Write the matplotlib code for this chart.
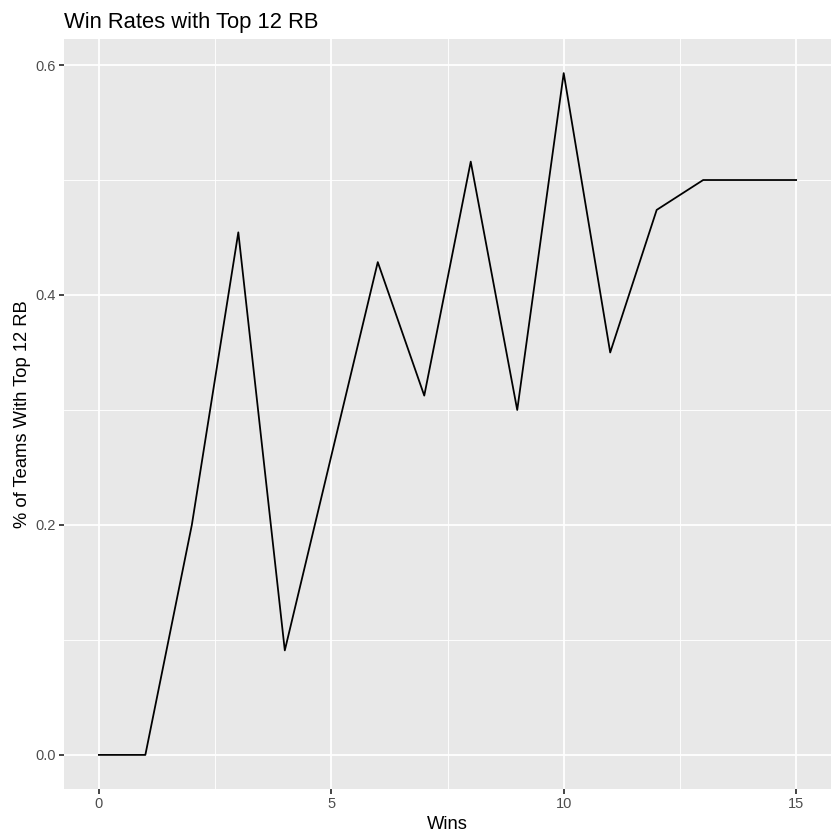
import matplotlib
matplotlib.use("Agg")
import matplotlib.pyplot as plt

plt.rcParams["font.family"] = ["Liberation Sans", "DejaVu Sans"]

wins = [0, 1, 2, 3, 4, 5, 6, 7, 8, 9, 10, 11, 12, 13, 14, 15]
pct_top12_rb = [0.0, 0.0, 0.2, 0.4545, 0.0909, 0.26, 0.4286, 0.3125,
                0.516, 0.30, 0.593, 0.35, 0.474, 0.5, 0.5, 0.5]

x_ticks = [0, 5, 10, 15]
y_ticks = [0.0, 0.2, 0.4, 0.6]
x_minor = [2.5, 7.5, 12.5]
y_minor = [0.1, 0.3, 0.5]

fig = plt.figure(figsize=(7, 7), dpi=120)
ax = fig.add_axes([64 / 840, 1 - 789 / 840, (831 - 64) / 840, (789 - 39) / 840])
ax.set_facecolor("#E8E8E8")
for s in ax.spines.values():
    s.set_visible(False)

for v in x_minor:
    ax.axvline(v, color="white", lw=0.53, zorder=0)
for v in y_minor:
    ax.axhline(v, color="white", lw=0.53, zorder=0)
for v in x_ticks:
    ax.axvline(v, color="white", lw=1.07, zorder=0)
for v in y_ticks:
    ax.axhline(v, color="white", lw=1.07, zorder=0)

ax.plot(wins, pct_top12_rb, color="black", lw=1.07, zorder=2)

xr = max(wins) - min(wins)
ax.set_xlim(min(wins) - 0.05 * xr, max(wins) + 0.05 * xr)
yr = max(pct_top12_rb) - min(pct_top12_rb)
ax.set_ylim(min(pct_top12_rb) - 0.05 * yr, max(pct_top12_rb) + 0.05 * yr)

ax.set_xticks(x_ticks)
ax.set_xticklabels([str(t) for t in x_ticks])
ax.set_yticks(y_ticks)
ax.set_yticklabels([f"{t:.1f}" for t in y_ticks])
ax.tick_params(axis="both", colors="#333333", length=2.75, width=1.07,
               labelsize=8.8, labelcolor="#4D4D4D", pad=2.2)

ax.set_xlabel("Wins", fontsize=11, labelpad=2.75)
ax.set_ylabel("% of Teams With Top 12 RB", fontsize=11, labelpad=2.75)
ax.set_title("Win Rates with Top 12 RB", fontsize=13.2, loc="left", pad=6.6)

fig.savefig("out.png", dpi=120)
